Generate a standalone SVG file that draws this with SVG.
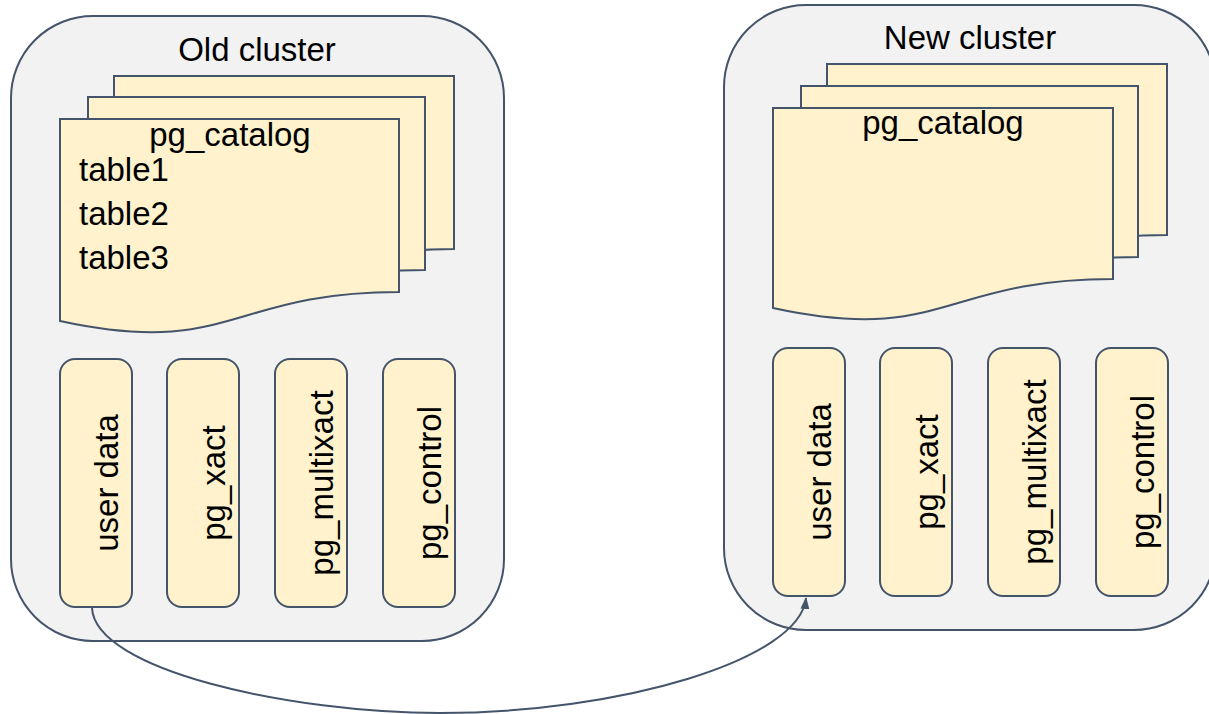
<svg xmlns="http://www.w3.org/2000/svg" width="1209" height="714" viewBox="0 0 1209 714">
<defs>
<style>
.cluster{fill:#f2f2f2;stroke:#44546a;stroke-width:2}
.page{fill:#fff2cc;stroke:#44546a;stroke-width:2}
.box{fill:#fff2cc;stroke:#44546a;stroke-width:2}
.t{font-family:"Liberation Sans",Arial,sans-serif;font-size:33px;fill:#000}
.title{font-family:"Liberation Sans",Arial,sans-serif;font-size:33px;fill:#000;text-anchor:middle}
.c{text-anchor:middle}
.conn{fill:none;stroke:#44546a;stroke-width:2}
</style>
<marker id="arr" viewBox="0 0 12 9" refX="11" refY="4.5" markerWidth="12" markerHeight="9" markerUnits="userSpaceOnUse" orient="auto">
<path d="M0,0 L12,4.5 L0,9 z" fill="#44546a"/>
</marker>
</defs>

<g id="old-cluster">
<rect class="cluster" x="11" y="16" width="493" height="625" rx="82" ry="82"/>
<text class="title" x="257" y="61">Old cluster</text>
<g id="old-pg_catalog">
<path class="page" d="M114,76 H454 V249 C284,249 284,315 114,278 Z"/>
<path class="page" d="M88,97 H425 V270 C257,270 257,336 88,299 Z"/>
<path class="page" d="M60,119 H399 V292 C230,292 230,358 60,321 Z"/>
<text class="t c" x="230" y="146">pg_catalog</text>
<text class="t" x="79" y="181">table1</text>
<text class="t" x="79" y="225">table2</text>
<text class="t" x="79" y="269">table3</text>
</g>
<g id="old-user-data">
<rect class="box" x="60" y="359" width="72" height="248" rx="15" ry="15"/>
<text class="t c" x="118" y="483" transform="rotate(-90 118 483)">user data</text>
</g>
<g id="old-pg_xact">
<rect class="box" x="167" y="359" width="72" height="248" rx="15" ry="15"/>
<text class="t c" x="225" y="483" transform="rotate(-90 225 483)">pg_xact</text>
</g>
<g id="old-pg_multixact">
<rect class="box" x="275" y="359" width="72" height="248" rx="15" ry="15"/>
<text class="t c" x="333" y="483" transform="rotate(-90 333 483)">pg_multixact</text>
</g>
<g id="old-pg_control">
<rect class="box" x="383" y="359" width="72" height="248" rx="15" ry="15"/>
<text class="t c" x="441" y="483" transform="rotate(-90 441 483)">pg_control</text>
</g>
</g>

<g id="new-cluster">
<rect class="cluster" x="724" y="5" width="492" height="625" rx="82" ry="82"/>
<text class="title" x="970" y="49">New cluster</text>
<g id="new-pg_catalog">
<path class="page" d="M827,64 H1167 V235 C997,235 997,301 827,264 Z"/>
<path class="page" d="M801,86 H1138 V257 C970,257 970,323 801,286 Z"/>
<path class="page" d="M773,108 H1113 V279 C943,279 943,345 773,308 Z"/>
<text class="t c" x="943" y="134">pg_catalog</text>
</g>
<g id="new-user-data">
<rect class="box" x="773" y="348" width="72" height="248" rx="15" ry="15"/>
<text class="t c" x="831" y="472" transform="rotate(-90 831 472)">user data</text>
</g>
<g id="new-pg_xact">
<rect class="box" x="880" y="348" width="72" height="248" rx="15" ry="15"/>
<text class="t c" x="938" y="472" transform="rotate(-90 938 472)">pg_xact</text>
</g>
<g id="new-pg_multixact">
<rect class="box" x="988" y="348" width="72" height="248" rx="15" ry="15"/>
<text class="t c" x="1046" y="472" transform="rotate(-90 1046 472)">pg_multixact</text>
</g>
<g id="new-pg_control">
<rect class="box" x="1096" y="348" width="72" height="248" rx="15" ry="15"/>
<text class="t c" x="1154" y="472" transform="rotate(-90 1154 472)">pg_control</text>
</g>
</g>

<g id="connectors">
<path class="conn" marker-end="url(#arr)" d="M92,608 C95,670 290,713 440,713 C620,713 800,660 806,598"/>
</g>
</svg>
